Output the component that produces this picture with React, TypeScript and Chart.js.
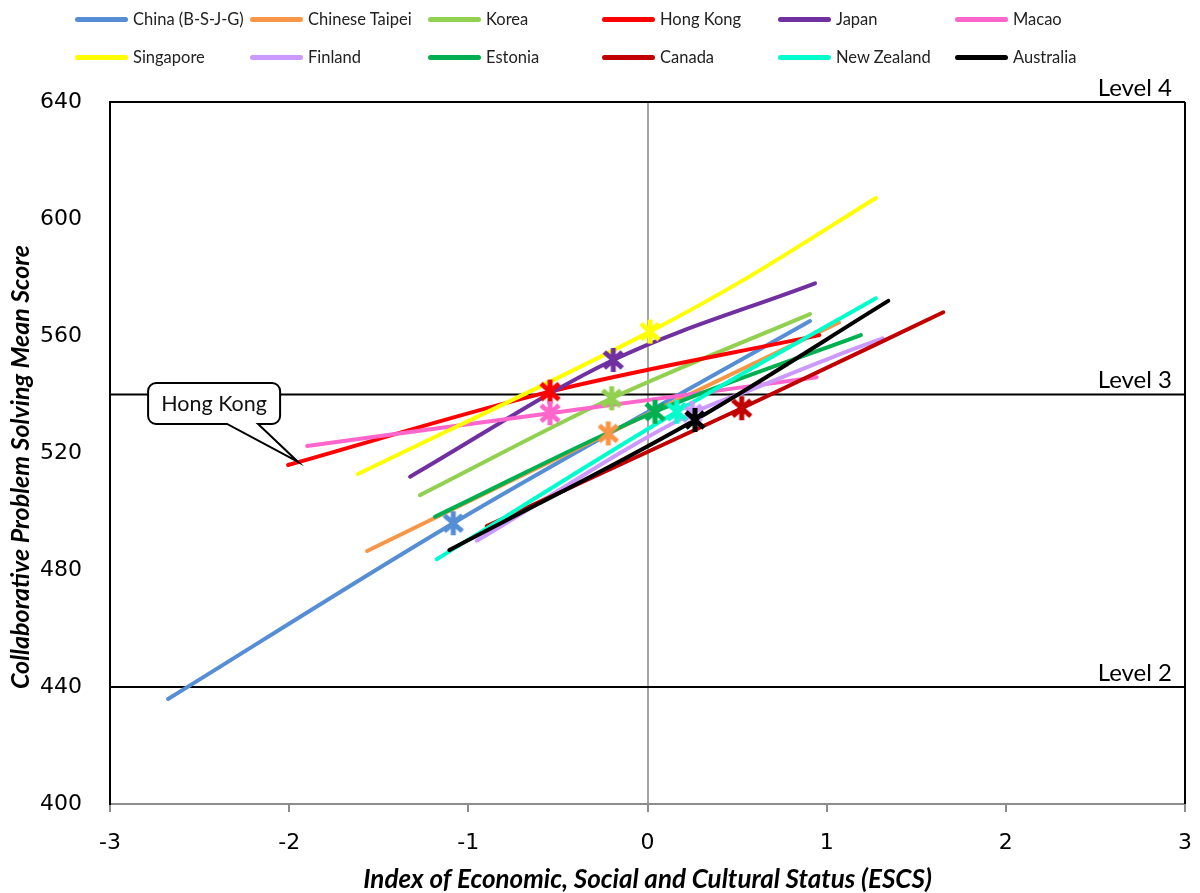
import React, { useEffect, useRef } from "react";
import { Chart, registerables } from "chart.js";

Chart.register(...registerables);

const countries = [
  "China (B-S-J-G)", "Chinese Taipei", "Korea", "Hong Kong", "Japan", "Macao",
  "Singapore", "Finland", "Estonia", "Canada", "New Zealand", "Australia",
];
const colors = [
  "#558ED5", "#F79646", "#92D050", "#FF0000", "#7030A0", "#FF66CC",
  "#FFFF00", "#CC99FF", "#00B050", "#C00000", "#00FFCC", "#000000",
];
// ESCS values along each country's curve (includes the mean point)
const curveESCS = [
  [-2.676, -1.084, 0.907],
  [-1.565, -0.219, 1.069],
  [-1.27, -0.2, 0.907],
  [-2.006, -0.544, 0.959],
  [-1.325, -0.191, 0.935],
  [-1.9, -0.544, 0.944],
  [-1.616, 0.014, 0.535, 1.275],
  [-0.953, 0.25, 0.572, 1.037, 1.312],
  [-1.186, 0.042, 1.191],
  [-0.897, 0.526, 1.651],
  [-1.176, 0.163, 1.275],
  [-1.106, 0.265, 1.344],
];
const curveScore = [
  [435.9, 496.0, 565.1],
  [486.5, 526.7, 564.6],
  [505.6, 538.7, 567.5],
  [515.9, 541.0, 560.3],
  [511.9, 551.8, 578.0],
  [522.4, 533.6, 545.9],
  [512.8, 561.5, 579.1, 607.2],
  [490.0, 533.6, 541.5, 552.9, 559.2],
  [498.2, 534.1, 560.3],
  [495.0, 535.3, 568.1],
  [483.7, 534.1, 572.9],
  [486.8, 531.3, 572.0],
];
const meanESCS = [-1.084, -0.219, -0.2, -0.544, -0.191, -0.544, 0.014, 0.25, 0.042, 0.526, 0.163, 0.265];
const meanScore = [496.0, 526.7, 538.7, 541.0, 551.8, 533.6, 561.5, 533.6, 534.1, 535.3, 534.1, 531.3];

const levelScores = [640, 540, 440];
const levelLabels = ["Level 4", "Level 3", "Level 2"];
const xTicks = [-3, -2, -1, 0, 1, 2, 3];
const yTicks = [400, 440, 480, 520, 560, 600, 640];
const xTitle = "Index of Economic, Social and Cultural Status (ESCS)";
const yTitle = "Collaborative Problem Solving Mean Score";
const calloutText = "Hong Kong";
const calloutIndex = 3;

const legendCols = [75, 250, 428, 602, 778, 955];
const legendRows = [19, 57];

function makeMarker(color: string): HTMLCanvasElement {
  const c = document.createElement("canvas");
  c.width = 26;
  c.height = 26;
  const g = c.getContext("2d")!;
  g.strokeStyle = color;
  g.lineWidth = 5;
  g.lineCap = "butt";
  g.beginPath();
  g.moveTo(4, 5);
  g.lineTo(22, 21);
  g.moveTo(22, 5);
  g.lineTo(4, 21);
  g.moveTo(13, 1);
  g.lineTo(13, 25);
  g.stroke();
  return c;
}

export default function App() {
  const ref = useRef<HTMLCanvasElement>(null);

  useEffect(() => {
    if (!ref.current) return;
    const datasets: any[] = [];

    countries.forEach((name, i) => {
      datasets.push({
        label: name + " mean",
        data: [{ x: meanESCS[i], y: meanScore[i] }],
        showLine: false,
        pointStyle: makeMarker(colors[i]),
        pointRadius: 8,
        order: -i,
      });
    });

    countries.forEach((name, i) => {
      datasets.push({
        label: name,
        data: curveESCS[i].map((x, k) => ({ x, y: curveScore[i][k] })),
        showLine: true,
        borderColor: colors[i],
        backgroundColor: colors[i],
        borderWidth: 4,
        pointRadius: 0,
        cubicInterpolationMode: "monotone",
        borderCapStyle: "round",
        order: 20 - i,
      });
    });

    levelScores.forEach((s, i) => {
      datasets.push({
        label: levelLabels[i],
        data: [{ x: xTicks[0], y: s }, { x: xTicks[xTicks.length - 1], y: s }],
        showLine: true,
        borderColor: "#000000",
        borderWidth: 2,
        pointRadius: 0,
        clip: false,
        order: 50,
      });
    });
    datasets.push({
      label: "right border",
      data: [{ x: xTicks[xTicks.length - 1], y: yTicks[0] }, { x: xTicks[xTicks.length - 1], y: yTicks[yTicks.length - 1] }],
      showLine: true,
      borderColor: "#000000",
      borderWidth: 2,
      pointRadius: 0,
      clip: false,
      order: 50,
    });

    const annotations = {
      id: "annotations",
      afterDatasetsDraw(chart: any) {
        const { ctx, scales, chartArea } = chart;
        const xs = scales.x;
        const ys = scales.y;
        ctx.save();
        // level labels
        ctx.font = "24px Lato";
        ctx.fillStyle = "#000";
        ctx.textAlign = "right";
        ctx.textBaseline = "middle";
        levelScores.forEach((s, i) => {
          ctx.fillText(levelLabels[i], chartArea.right - 13, ys.getPixelForValue(s) - 14);
        });
        // y axis title
        ctx.save();
        ctx.translate(21, (chartArea.top + chartArea.bottom) / 2 + 14);
        ctx.rotate(-Math.PI / 2);
        ctx.textAlign = "center";
        ctx.font = "italic bold 25px Lato";
        ctx.fillText(yTitle, 0, 0);
        ctx.restore();
        // callout
        const tx = xs.getPixelForValue(curveESCS[calloutIndex][0]) + 10;
        const ty = ys.getPixelForValue(curveScore[calloutIndex][0]) - 3;
        const left = tx - 150, right = tx - 18, top = ty - 79, bottom = ty - 38, r = 8;
        const b1 = tx - 71, b2 = tx - 40;
        ctx.beginPath();
        ctx.moveTo(left + r, top);
        ctx.lineTo(right - r, top);
        ctx.arcTo(right, top, right, top + r, r);
        ctx.lineTo(right, bottom - r);
        ctx.arcTo(right, bottom, right - r, bottom, r);
        ctx.lineTo(b2, bottom);
        ctx.lineTo(tx, ty);
        ctx.lineTo(b1, bottom);
        ctx.lineTo(left + r, bottom);
        ctx.arcTo(left, bottom, left, bottom - r, r);
        ctx.lineTo(left, top + r);
        ctx.arcTo(left, top, left + r, top, r);
        ctx.closePath();
        ctx.fillStyle = "#fff";
        ctx.fill();
        ctx.lineWidth = 2;
        ctx.strokeStyle = "#000";
        ctx.stroke();
        ctx.fillStyle = "#111";
        ctx.textAlign = "center";
        ctx.font = "21.5px Lato";
        ctx.fillText(calloutText, (left + right) / 2, (top + bottom) / 2 + 1);
        ctx.restore();
      },
    };

    const chart = new Chart(ref.current, {
      type: "scatter",
      data: { datasets },
      plugins: [annotations],
      options: {
        animation: false,
        responsive: false,
        events: [],
        layout: { padding: { top: 102, right: 15, left: 0, bottom: 0 } },
        plugins: { legend: { display: false }, tooltip: { enabled: false } },
        scales: {
          x: {
            type: "linear",
            min: xTicks[0],
            max: xTicks[xTicks.length - 1],
            afterFit: (s: any) => { s.height = 89; s.paddingLeft = 0; s.paddingRight = 0; },
            afterBuildTicks: (s: any) => { s.ticks = xTicks.map((v) => ({ value: v })); },
            ticks: { font: { family: "DejaVu Sans", size: 22 }, color: "#000", padding: 18 },
            grid: {
              color: (c: any) => (c.tick && c.tick.value === 0 ? "#A6A6A6" : "rgba(0,0,0,0)"),
              lineWidth: 2,
              tickColor: "#8C8C8C",
              tickLength: 8,
              tickWidth: 2,
            },
            border: { display: true, color: "#8C8C8C", width: 2 },
            title: {
              display: true,
              text: xTitle,
              font: { family: "Lato", size: 26, weight: "bold", style: "italic", lineHeight: 1 },
              color: "#000",
              padding: { top: 0, bottom: 0 },
            },
          },
          y: {
            type: "linear",
            min: yTicks[0],
            max: yTicks[yTicks.length - 1],
            afterFit: (s: any) => { s.width = 110; s.paddingTop = 0; s.paddingBottom = 0; },
            afterBuildTicks: (s: any) => { s.ticks = yTicks.map((v) => ({ value: v })); },
            ticks: { font: { family: "DejaVu Sans", size: 22 }, color: "#000", padding: 28 },
            grid: { display: false, drawTicks: false },
            border: { display: true, color: "#000", width: 2 },
            title: { display: false },
          },
        },
      },
    } as any);
    return () => chart.destroy();
  }, []);

  return (
    <div style={{ position: "absolute", left: 0, top: 0, width: 1200, height: 893, background: "#fff" }}>
      <canvas ref={ref} width={1200} height={893} style={{ position: "absolute", left: 0, top: 0 }} />
      {countries.map((name, i) => {
        const col = legendCols[i % 6];
        const row = legendRows[Math.floor(i / 6)];
        return (
          <div key={name} style={{ position: "absolute", left: col, top: row - 11, height: 22, display: "flex", alignItems: "center", fontFamily: "Lato", fontSize: 16.5, color: "#222", whiteSpace: "nowrap" }}>
            <span style={{ display: "inline-block", width: 53, height: 5, borderRadius: 2.5, background: colors[i], marginRight: 5 }} />
            <span>{name}</span>
          </div>
        );
      })}
    </div>
  );
}
